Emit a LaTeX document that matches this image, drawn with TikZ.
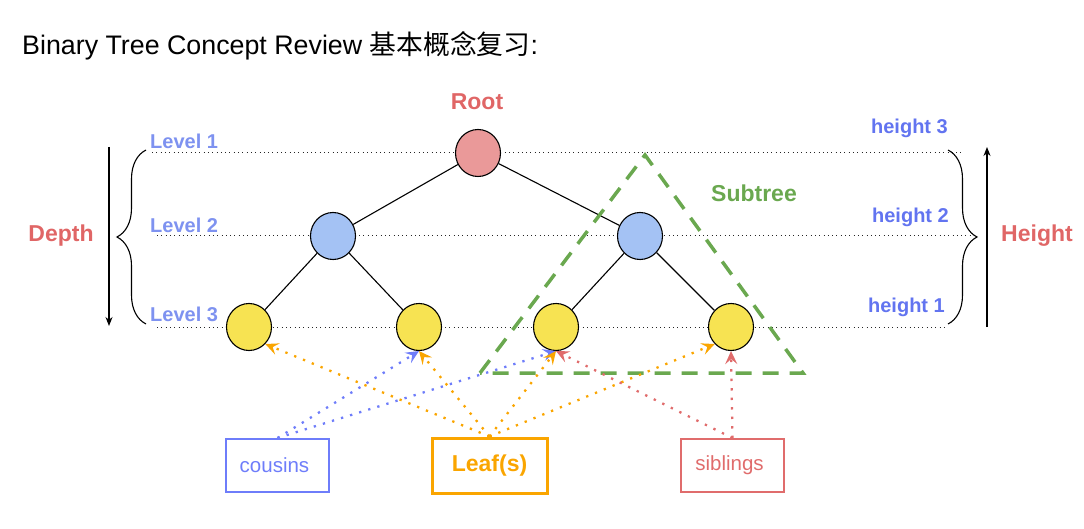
\documentclass[tikz,border=0pt]{standalone}
\usepackage{fontspec}
\setmainfont{Liberation Sans}
\newfontfamily\cjk{Noto Sans CJK SC}
\usepackage{tikz}
\usetikzlibrary{arrows.meta}
\usetikzlibrary{decorations.pathreplacing}
\usetikzlibrary{shapes.geometric}
\definecolor{rootred}{RGB}{234,153,153}
\definecolor{midblue}{RGB}{164,194,244}
\definecolor{leafyel}{RGB}{247,227,82}
\definecolor{lblred}{RGB}{224,102,102}
\definecolor{subgreen}{RGB}{106,168,79}
\definecolor{lvlblue}{RGB}{126,146,240}
\definecolor{hgtblue}{RGB}{98,116,240}
\definecolor{cblue}{RGB}{110,125,250}
\definecolor{lorange}{RGB}{250,165,0}
\definecolor{sred}{RGB}{224,108,108}

\begin{document}
\begin{tikzpicture}[x=1pt, y=-1pt]
	\tikzstyle{nd}=[ellipse, draw, line width=1.1pt, inner sep=0pt,
	                        minimum width=45pt, minimum height=47pt];
	\tikzstyle{guide}=[line width=1pt, dash pattern=on 1pt off 3.3pt, black!85];
	\tikzstyle{lvl}=[font=\fontsize{20}{22}\selectfont\bfseries, text=lvlblue, inner sep=0pt, anchor=west];
	\tikzstyle{hgt}=[font=\fontsize{20}{22}\selectfont\bfseries, text=hgtblue, inner sep=0pt, anchor=east];
	\tikzstyle{big}=[font=\fontsize{23}{26}\selectfont\bfseries, inner sep=0pt];
	\tikzstyle{box}=[draw, line width=2pt, minimum width=103pt, minimum height=53pt, inner sep=0pt,
	                        font=\fontsize{20.5}{23}\selectfont];
	\tikzstyle{ptr}=[line width=2.3pt, dash pattern=on 2.3pt off 7.2pt,
	                        -{Stealth[length=13pt, width=12pt, inset=5pt]}];
	\useasboundingbox (0,0) rectangle (1084,529);
	\node[anchor=base west, inner sep=0pt, font=\fontsize{26.8}{30}\selectfont] (title) at (22,55)
	  {Binary Tree Concept Review {\cjk 基本概念复习}:};
	% level guides
	\draw[guide] (152,153) -- (962,153);
	\draw[guide] (157,236) -- (973,236);
	\draw[guide] (157,327) -- (947,327);
	% tree
	\node[nd, fill=rootred] (r) at (478,153) {};
	\node[nd, fill=midblue] (a) at (333,236) {};
	\node[nd, fill=midblue] (b) at (640,236) {};
	\foreach \n/\x in {l1/249, l2/419, l3/556, l4/731}
	{\node[nd, fill=leafyel] (\n) at (\x,327) {};}
	\draw[line width=1.1pt]
	(r) -- (a)
	(r) -- (b)
	(a) -- (l1)
	(a) -- (l2)
	(b) -- (l3)
	(b) -- (l4)
	;
	% subtree
	\draw[subgreen, line width=3.5pt, dash pattern=on 16pt off 11pt]
	  (480,373) -- (645,155) -- (803,373) -- cycle;
	% braces and arrows
	\draw[decorate, decoration={brace, amplitude=29pt}, line width=1.1pt] (146,324) -- (146,150);
	\draw[decorate, decoration={brace, amplitude=29pt}, line width=1.1pt] (948,150) -- (948,324);
	\draw[line width=1.1pt, -{Stealth[length=9pt, width=7pt]}] (109,147) -- (109,326);
	\draw[line width=1.1pt, -{Stealth[length=9pt, width=7pt]}] (987,327) -- (987,147);
	% labels
	\node[big, text=lblred] (root) at (477,102) {Root};
	\node[big, text=lblred] (depth) at (61,236) {Depth};
	\node[big, text=lblred] (height) at (1037,236) {Height};
	\node[big, text=subgreen] (sub) at (754,193) {Subtree};
	\foreach \i/\y in {1/141, 2/225, 3/314}
	{\node[lvl] (lv\i) at (150,\y) {Level \i};}
	\foreach \i/\x/\y in {3/948/128, 2/949/217, 1/945/307}
	{\node[hgt] (h\i) at (\x,\y) {height \i};}
	% boxes
	\node[box, draw=cblue, text=cblue] (cous) at (277.5,465.5) {cousins\hspace*{6pt}};
	\node[box, draw=lorange, text=lorange, line width=3pt, minimum width=115pt, minimum height=55pt,
	      font=\fontsize{23}{26}\selectfont\bfseries] (leaf) at (489.5,465.5) {Leaf(s)};
	\node[box, draw=sred, text=sred] (sib) at (732.5,465.5) {siblings\hspace*{6pt}};
	% pointers
	\draw[ptr, cblue] (cous.north) -- (l2.south);
	\draw[ptr, cblue] (cous.north) -- (l3.south);
	\draw[ptr, lorange] (leaf.north) -- (l1.south east);
	\draw[ptr, lorange] (leaf.north) -- (l2.south);
	\draw[ptr, lorange] (leaf.north) -- (l3.south);
	\draw[ptr, lorange] (leaf.north) -- (l4.south west);
	\draw[ptr, sred] (sib.north) -- (l3.south);
	\draw[ptr, sred] (sib.north) -- (l4.south);
\end{tikzpicture}
\end{document}
